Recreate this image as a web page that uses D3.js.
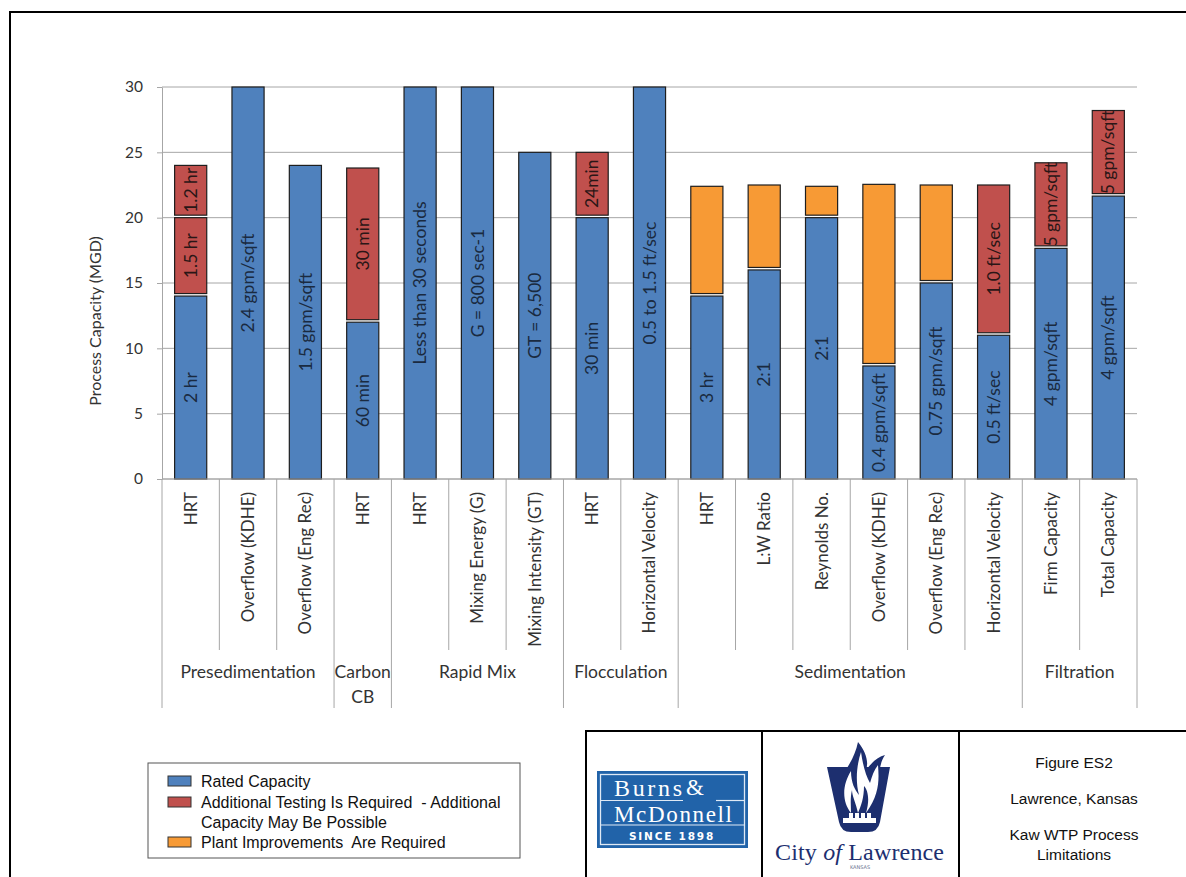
<!DOCTYPE html>
<html>
<head>
<meta charset="utf-8">
<script src="https://cdn.jsdelivr.net/npm/d3@7"></script>
<style>
  body { margin: 0; background: #fff; }
  svg { display: block; }
  .pre { white-space: pre; }
</style>
</head>
<body>
<svg id="chart"></svg>
<script>
// Kaw WTP process limitations - stacked capacity chart

// Process groups and the sub-categories below each bar
const groups = ['Presedimentation', 'Carbon\nCB', 'Rapid Mix', 'Flocculation', 'Sedimentation', 'Filtration'];
const categories = ['HRT', 'Overflow (KDHE)', 'Overflow (Eng Rec)', 'HRT', 'HRT', 'Mixing Energy (G)',
  'Mixing Intensity (GT)', 'HRT', 'Horizontal Velocity', 'HRT', 'L:W Ratio', 'Reynolds No.',
  'Overflow (KDHE)', 'Overflow (Eng Rec)', 'Horizontal Velocity', 'Firm Capacity', 'Total Capacity'];
const categoryGroup = [0, 0, 0, 1, 2, 2, 2, 3, 3, 4, 4, 4, 4, 4, 4, 5, 5];

// Series values (MGD)
const rated = [14, 30, 24, 12, 30, 30, 25, 20, 30, 14, 16, 20, 8.65, 15, 11, 17.65, 21.65];
const testingA = [6, 0, 0, 11.8, 0, 0, 0, 5, 0, 0, 0, 0, 0, 0, 11.5, 6.55, 6.55];
const testingB = [4, 0, 0, 0, 0, 0, 0, 0, 0, 0, 0, 0, 0, 0, 0, 0, 0];
const improvements = [0, 0, 0, 0, 0, 0, 0, 0, 0, 8.4, 6.5, 2.4, 13.9, 7.5, 0, 0, 0];

// Labels written inside the segments
const ratedLabels = ['2 hr', '2.4 gpm/sqft', '1.5 gpm/sqft', '60 min', 'Less than 30 seconds', 'G = 800 sec-1',
  'GT = 6,500', '30 min', '0.5 to 1.5 ft/sec', '3 hr', '2:1', '2:1', '0.4 gpm/sqft', '0.75 gpm/sqft',
  '0.5 ft/sec', '4 gpm/sqft', '4 gpm/sqft'];
const testingALabels = ['1.5 hr', '', '', '30 min', '', '', '', '24min', '', '', '', '', '', '', '1.0 ft/sec', '5 gpm/sqft', '5 gpm/sqft'];
const testingBLabels = ['1.2 hr', '', '', '', '', '', '', '', '', '', '', '', '', '', '', '', ''];

const yTicks = [0, 5, 10, 15, 20, 25, 30];

const legendItems = [
  { key: 'rated', text: ['Rated Capacity'] },
  { key: 'testingA', text: ['Additional Testing Is Required  - Additional', 'Capacity May Be Possible'] },
  { key: 'improvements', text: ['Plant Improvements  Are Required'] }
];
const titleLines = ['Figure ES2', 'Lawrence, Kansas', 'Kaw WTP Process', 'Limitations'];

const colors = { rated: '#4f81bd', testingA: '#c0504d', testingB: '#c0504d', improvements: '#f79a35' };
const labelSets = { rated: ratedLabels, testingA: testingALabels, testingB: testingBLabels, improvements: [] };

const W = 1186, H = 877;
const svg = d3.select('#chart').attr('width', W).attr('height', H);

// Outer frame
svg.append('rect')
  .attr('x', 10).attr('y', 12).attr('width', W + 20).attr('height', H + 20)
  .attr('fill', 'none').attr('stroke', '#000').attr('stroke-width', 2);

const rows = categories.map((c, i) => ({
  i, rated: rated[i], testingA: testingA[i], testingB: testingB[i], improvements: improvements[i]
}));
const keys = ['rated', 'testingA', 'testingB', 'improvements'];
const stacked = d3.stack().keys(keys)(rows);

const x = d3.scaleBand().domain(d3.range(categories.length))
  .range([162, 1137]).paddingInner(0.44).paddingOuter(0.22);
const y = d3.scaleLinear().domain([0, 30]).range([479, 87]);
const step = x.step();
const x0 = x.range()[0], x1 = x.range()[1];
const chartFont = 'Lato, sans-serif';

// Gridlines
svg.append('g')
  .selectAll('line')
  .data(yTicks)
  .enter().append('line')
  .attr('x1', x0).attr('x2', x1)
  .attr('y1', d => y(d)).attr('y2', d => y(d))
  .attr('stroke', '#a6a6a6').attr('stroke-width', 1);

// Y axis
const yAxis = svg.append('g')
  .attr('transform', `translate(${x0},0)`)
  .call(d3.axisLeft(y).tickValues(yTicks).tickSize(5).tickPadding(14).tickSizeOuter(0));
yAxis.select('.domain').attr('stroke', '#a6a6a6');
yAxis.selectAll('.tick line').attr('stroke', '#a6a6a6');
yAxis.selectAll('.tick text')
  .attr('font-family', chartFont).attr('font-size', 15.5).attr('fill', '#333');

svg.append('text')
  .attr('transform', 'translate(101,321) rotate(-90)')
  .attr('text-anchor', 'middle')
  .attr('font-family', chartFont).attr('font-size', 16).attr('fill', '#333')
  .text('Process Capacity (MGD)');

// Bars
const gap = 2.5;
const seg = svg.append('g')
  .selectAll('g')
  .data(stacked)
  .enter().append('g');

seg.selectAll('rect')
  .data(s => s.map(d => ({ key: s.key, d })).filter(o => o.d[1] - o.d[0] > 0))
  .enter().append('rect')
  .attr('x', o => x(o.d.data.i))
  .attr('width', x.bandwidth())
  .attr('y', o => y(o.d[1]))
  .attr('height', o => y(o.d[0]) - y(o.d[1]) - (o.d[0] > 0 ? gap : 0))
  .attr('fill', o => colors[o.key])
  .attr('stroke', '#1e1e1e').attr('stroke-width', 1.2);

seg.selectAll('text')
  .data(s => s.map(d => ({ key: s.key, d })).filter(o => labelSets[o.key][o.d.data.i]))
  .enter().append('text')
  .attr('transform', o => {
    const cx = x(o.d.data.i) + x.bandwidth() / 2;
    const cy = (y(o.d[1]) + y(o.d[0]) - (o.d[0] > 0 ? gap : 0)) / 2;
    return `translate(${cx},${cy}) rotate(-90)`;
  })
  .attr('text-anchor', 'middle')
  .attr('dy', '0.35em')
  .attr('font-family', chartFont).attr('font-size', 17.5)
  .attr('fill', o => o.key === 'rated' ? '#1a2a40' : '#2a1616')
  .text(o => labelSets[o.key][o.d.data.i]);

// X axis line
svg.append('line')
  .attr('x1', x0).attr('x2', x1).attr('y1', y(0)).attr('y2', y(0))
  .attr('stroke', '#a6a6a6');

// Category separators (short inside group, long between groups)
const bounds = d3.range(categories.length + 1);
svg.append('g')
  .selectAll('line')
  .data(bounds)
  .enter().append('line')
  .attr('x1', i => x0 + i * step).attr('x2', i => x0 + i * step)
  .attr('y1', y(0))
  .attr('y2', i => (i === 0 || i === categories.length || categoryGroup[i] !== categoryGroup[i - 1]) ? 708 : 650)
  .attr('stroke', '#a6a6a6');

// Category labels
svg.append('g')
  .selectAll('text')
  .data(categories)
  .enter().append('text')
  .attr('transform', (d, i) => `translate(${x(i) + x.bandwidth() / 2},492) rotate(-90)`)
  .attr('text-anchor', 'end')
  .attr('dy', '0.35em')
  .attr('font-family', chartFont).attr('font-size', 17).attr('fill', '#333')
  .text(d => d);

// Group labels
const groupSpans = groups.map((g, gi) => {
  const idx = categoryGroup.map((v, i) => v === gi ? i : -1).filter(i => i >= 0);
  return { name: g, a: d3.min(idx), b: d3.max(idx) + 1 };
});
const gl = svg.append('g')
  .selectAll('text')
  .data(groupSpans)
  .enter().append('text')
  .attr('y', 678)
  .attr('text-anchor', 'middle')
  .attr('font-family', chartFont).attr('font-size', 17.5).attr('fill', '#333');
gl.selectAll('tspan')
  .data(d => d.name.split('\n').map(t => ({ t, cx: x0 + (d.a + d.b) / 2 * step })))
  .enter().append('tspan')
  .attr('x', d => d.cx)
  .attr('dy', (d, i) => i === 0 ? 0 : 25)
  .text(d => d.t);

// Legend
const legend = svg.append('g');
legend.append('rect')
  .attr('x', 148).attr('y', 763).attr('width', 372).attr('height', 95)
  .attr('fill', '#fff').attr('stroke', '#555').attr('stroke-width', 1);
const legendRows = [781, 802, 842];
legendItems.forEach((item, k) => {
  legend.append('rect')
    .attr('x', 168).attr('y', legendRows[k] - 5).attr('width', 23).attr('height', 10)
    .attr('fill', colors[item.key]).attr('stroke', '#333').attr('stroke-width', 1);
  item.text.forEach((t, j) => {
    legend.append('text')
      .attr('class', 'pre')
      .attr('x', 201).attr('y', legendRows[k] + j * 20 + 5.5)
      .attr('font-family', 'Liberation Sans, Arial, sans-serif').attr('font-size', 16).attr('fill', '#111')
      .text(t);
  });
});

// Title block
const tb = svg.append('g');
tb.append('rect')
  .attr('x', 586).attr('y', 731).attr('width', 640).attr('height', 200)
  .attr('fill', 'none').attr('stroke', '#000').attr('stroke-width', 2);
[762, 959].forEach(px => {
  tb.append('line').attr('x1', px).attr('x2', px).attr('y1', 731).attr('y2', H)
    .attr('stroke', '#000').attr('stroke-width', 2);
});
[762, 798, 834, 854].forEach((py, k) => {
  tb.append('text')
    .attr('x', 1074).attr('y', py + 5.5)
    .attr('text-anchor', 'middle')
    .attr('font-family', 'Liberation Sans, Arial, sans-serif').attr('font-size', 15.5).attr('fill', '#111')
    .text(titleLines[k]);
});

// Burns & McDonnell logo
const serif = 'Liberation Serif, serif';
const bm = tb.append('g');
bm.append('rect').attr('x', 597).attr('y', 771).attr('width', 151).attr('height', 77).attr('fill', '#2163a9');
bm.append('rect').attr('x', 600.5).attr('y', 774.5).attr('width', 144).attr('height', 70)
  .attr('fill', 'none').attr('stroke', '#dfe9f5').attr('stroke-width', 1.3);
bm.append('line').attr('x1', 601).attr('x2', 683).attr('y1', 800.5).attr('y2', 800.5)
  .attr('stroke', '#dfe9f5').attr('stroke-width', 1.2);
bm.append('line').attr('x1', 716).attr('x2', 744).attr('y1', 800.5).attr('y2', 800.5)
  .attr('stroke', '#dfe9f5').attr('stroke-width', 1.2);
bm.append('line').attr('x1', 601).attr('x2', 744).attr('y1', 825).attr('y2', 825)
  .attr('stroke', '#dfe9f5').attr('stroke-width', 1.2);
bm.append('text').attr('x', 614).attr('y', 796)
  .attr('font-family', serif).attr('font-size', 24).attr('fill', '#fff')
  .attr('textLength', 68).text('Burns');
bm.append('text').attr('x', 686).attr('y', 795)
  .attr('font-family', serif).attr('font-size', 23).attr('fill', '#fff').text('&');
bm.append('text').attr('x', 614).attr('y', 822)
  .attr('font-family', serif).attr('font-size', 23).attr('fill', '#fff')
  .attr('textLength', 118).text('McDonnell');
bm.append('text').attr('x', 672).attr('y', 840).attr('text-anchor', 'middle')
  .attr('font-family', 'DejaVu Sans, sans-serif').attr('font-weight', 'bold').attr('font-size', 10.5)
  .attr('letter-spacing', 1.8).attr('fill', '#fff').text('SINCE 1898');

// City of Lawrence logo
const cl = tb.append('g');
const navy = '#1d2f6f';
cl.append('path')
  .attr('d', 'M827,767 L890,767 L880,822 Q878,832 868,832 L851,832 Q841,832 839,822 Z')
  .attr('fill', navy);
// flame: navy body rising above the keystone, white tongues inside
cl.append('path')
  .attr('d', 'M849,816 C836,800 837,782 847,768 C852,760 856,752 858,742 C866,752 869,762 866,770 C872,762 878,757 885,755 C880,762 880,770 878,778 C885,792 878,806 868,816 Z')
  .attr('fill', navy);
cl.append('path')
  .attr('d', 'M851,813 C841,800 843,784 851,771 C851,783 855,790 859,795 C855,780 857,764 861,752 C863,766 866,776 870,783 C872,776 874,770 878,765 C879,779 880,794 866,813 C870,800 868,790 864,786 C864,798 861,806 858,813 C856,803 852,796 852,790 C850,798 851,806 851,813 Z')
  .attr('fill', '#fff');
cl.append('rect').attr('x', 843).attr('y', 818).attr('width', 33).attr('height', 5).attr('fill', '#fff');
[849, 855, 861, 867].forEach(px => {
  cl.append('rect').attr('x', px).attr('y', 813).attr('width', 4).attr('height', 5).attr('fill', '#fff');
});
cl.append('text').attr('x', 775).attr('y', 860)
  .attr('font-family', serif).attr('font-size', 24).attr('fill', navy)
  .attr('textLength', 169)
  .html('City <tspan font-style="italic">of</tspan> Lawrence');
cl.append('text').attr('x', 860).attr('y', 869).attr('text-anchor', 'middle')
  .attr('font-family', 'DejaVu Sans, sans-serif').attr('font-size', 5).attr('fill', '#6a7390').text('KANSAS');
</script>
</body>
</html>
